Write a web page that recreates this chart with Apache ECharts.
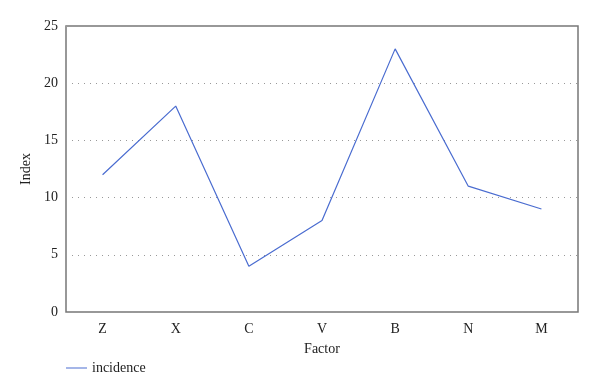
<!DOCTYPE html>
<html><head><meta charset="utf-8">
<script src="https://cdn.jsdelivr.net/npm/echarts@6/dist/echarts.min.js"></script>
<style>html,body{margin:0;padding:0;background:#fff}#c{width:600px;height:390px}</style>
</head><body><div id="c"></div>
<script>
var categories = ['Z','X','C','V','B','N','M'];
var incidence = [12, 18, 4, 8, 23, 11, 9];
var yTicks = {min: 0, max: 25, interval: 5};
var F = '"Liberation Serif", "DejaVu Serif", serif';
var chart = echarts.init(document.getElementById('c'));
chart.setOption({
  animation: false,
  textStyle: {fontFamily: F},
  grid: {left: 66, right: 22, top: 26, bottom: 78, show: true, borderColor: '#777', borderWidth: 1.5, backgroundColor: 'transparent'},
  legend: {left: 61, top: 356, itemWidth: 21, itemHeight: 1, icon: 'rect', itemGap: 10,
    textStyle: {fontFamily: F, fontSize: 14, color: '#222'}, data: ['incidence']},
  xAxis: {type: 'category', data: categories, boundaryGap: true,
    name: 'Factor', nameLocation: 'middle', nameGap: 30,
    nameTextStyle: {fontFamily: F, fontSize: 14, color: '#222'},
    axisLine: {show: false}, axisTick: {show: false},
    axisLabel: {fontFamily: F, fontSize: 14, color: '#222', margin: 10}},
  yAxis: {type: 'value', min: yTicks.min, max: yTicks.max, interval: yTicks.interval,
    name: 'Index', nameLocation: 'middle', nameGap: 31,
    nameTextStyle: {fontFamily: F, fontSize: 14, color: '#222'},
    axisLine: {show: false}, axisTick: {show: false},
    axisLabel: {fontFamily: F, fontSize: 14, color: '#222', margin: 8},
    splitLine: {show: true, lineStyle: {type: [1, 5], color: '#999', width: 1}}},
  series: [{name: 'incidence', type: 'line', data: incidence, symbol: 'none',
    lineStyle: {color: '#4a6cd0', width: 1.2}, itemStyle: {color: '#4a6cd0'}}]
});
</script></body></html>
